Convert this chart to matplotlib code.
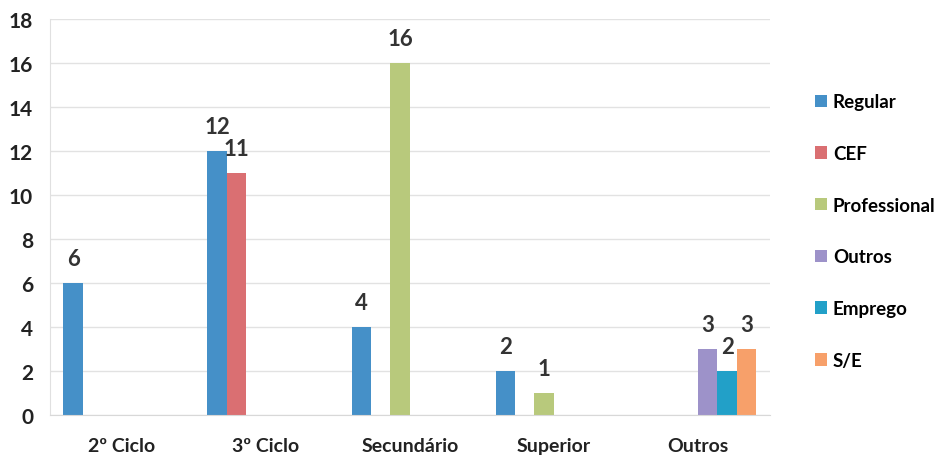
import numpy as np
import matplotlib.pyplot as plt

plt.rcParams['font.family'] = ['Lato', 'DejaVu Sans']

categorias = ['2º Ciclo', '3º Ciclo', 'Secundário', 'Superior', 'Outros']
series = ['Regular', 'CEF', 'Professional', 'Outros', 'Emprego', 'S/E']
valores = {
    'Regular':      [6, 12, 4, 2, 0],
    'CEF':          [0, 11, 0, 0, 0],
    'Professional': [0, 0, 16, 1, 0],
    'Outros':       [0, 0, 0, 0, 3],
    'Emprego':      [0, 0, 0, 0, 2],
    'S/E':          [0, 0, 0, 0, 3],
}
cores = ['#4590c8', '#da6f72', '#b8c97c', '#9d92c9', '#22a0c8', '#f7a06a']

fig = plt.figure(figsize=(9.39, 4.56), dpi=100)
ax = fig.add_axes([0.053, 0.088, 0.767, 0.868])

x = np.arange(len(categorias))
w = 0.135
for i, (nome, cor) in enumerate(zip(series, cores)):
    vals = np.array(valores[nome])
    pos = x + (i - 2.5) * w
    mask = vals > 0
    ax.bar(pos[mask], vals[mask], width=w, color=cor, label=nome)
    for p, v in zip(pos[mask], vals[mask]):
        ax.annotate(str(v), (p, v), xytext=(0, 10), textcoords='offset points',
                    ha='center', va='bottom', fontsize=16, fontweight='bold',
                    color='#333333')

ax.set_xlim(-0.5, 4.5)
ax.set_ylim(0, 18)
ax.set_yticks(range(0, 19, 2))
ax.set_xticks(x)
ax.set_xticklabels(categorias, fontsize=14, fontweight='bold', color='#222222')
ax.tick_params(axis='y', labelsize=15, labelcolor='#222222', length=0, pad=12)
ax.tick_params(axis='x', length=0, pad=16)
for lb in ax.get_yticklabels():
    lb.set_fontweight('bold')
ax.grid(axis='y', color='#e2e2e2', linewidth=1)
ax.set_axisbelow(True)
for s in ['top', 'right']:
    ax.spines[s].set_visible(False)
ax.spines['left'].set_color('#e0e0e0')
ax.spines['bottom'].set_color('#d8d8d8')

fig.legend(loc='upper left', bbox_to_anchor=(0.85, 0.83), frameon=False,
           prop={'size': 13.5, 'weight': 'bold'}, handlelength=0.65,
           handleheight=0.65, handletextpad=0.3, labelspacing=1.85)

plt.savefig('out.png', dpi=100)
